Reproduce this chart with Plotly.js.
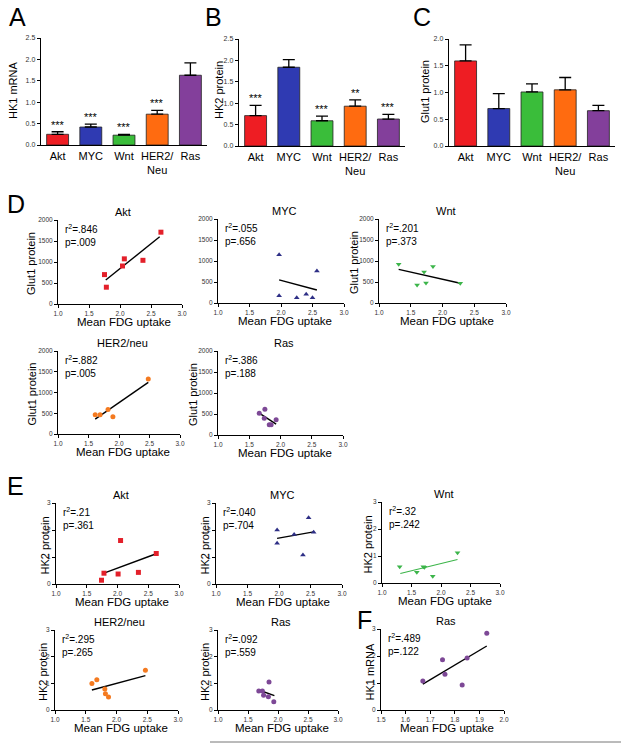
<!DOCTYPE html>
<html><head><meta charset="utf-8">
<script src="https://cdn.plot.ly/plotly-3.0.1.min.js"></script>
<style>body{margin:0;background:#fff}#chart{width:621px;height:746px}</style>
</head><body><div id="chart"></div>
<script>
const W=621,H=746;
// ---- bar panels A-C ----
const categories=['Akt','MYC','Wnt','HER2/<br>Neu','Ras'];
const barColors=['#ee1d23','#2f3ab2','#3abd3a','#ff6b10','#833f9b'];
const hk1Mean=[0.25,0.42,0.23,0.72,1.63];
const hk1Err=[0.06,0.07,0.02,0.09,0.29];
const hk1Stars=['***','***','***','***',''];
const hk2Mean=[0.71,1.84,0.59,0.93,0.63];
const hk2Err=[0.24,0.18,0.11,0.15,0.11];
const hk2Stars=['***','','***','**','***'];
const glutMean=[1.59,0.70,1.01,1.05,0.66];
const glutErr=[0.30,0.28,0.15,0.23,0.10];
const glutStars=['','','','',''];
// ---- scatter panels D (Glut1 protein vs FDG) ----
const dAktX=[1.75,1.78,2.04,2.07,2.37,2.66], dAktY=[700,400,905,1075,1040,1710];
const dAktLineX=[1.77,2.64], dAktLineY=[570,1600];
const dMycX=[1.97,1.97,2.25,2.40,2.50,2.57], dMycY=[1150,175,125,210,125,760];
const dMycLineX=[1.97,2.57], dMycLineY=[550,310];
const dWntX=[1.31,1.60,1.71,1.74,1.85,2.28], dWntY=[920,430,740,475,870,470];
const dWntLineX=[1.31,2.28], dWntLineY=[800,470];
const dHerX=[1.61,1.69,1.82,1.90,2.48], dHerY=[462,462,590,414,1323];
const dHerLineX=[1.61,2.48], dHerLineY=[360,1243];
const dRasX=[1.66,1.74,1.75,1.82,1.85,1.93], dRasY=[520,400,615,245,245,365];
const dRasLineX=[1.66,1.93], dRasLineY=[520,260];
// ---- scatter panels E (HK2 protein vs FDG) ----
const eAktX=[1.74,1.78,2.01,2.05,2.34,2.63], eAktY=[0.14,0.40,0.37,1.61,0.43,1.13];
const eAktLineX=[1.78,2.63], eAktLineY=[0.40,1.12];
const eMycX=[1.97,1.97,2.24,2.38,2.47,2.55], eMycY=[2.0,1.51,1.83,1.07,2.45,1.92];
const eMycLineX=[1.97,2.55], eMycLineY=[1.69,1.93];
const eWntX=[1.30,1.59,1.70,1.72,1.86,2.28], eWntY=[0.60,0.40,0.60,0.58,0.25,1.12];
const eWntLineX=[1.31,2.28], eWntLineY=[0.35,0.87];
const eHerX=[1.60,1.68,1.81,1.82,1.87,2.47], eHerY=[0.99,1.13,0.79,0.61,0.49,1.49];
const eHerLineX=[1.60,2.47], eHerLineY=[0.75,1.29];
const eRasX=[1.68,1.74,1.76,1.84,1.85,1.93], eRasY=[0.71,0.71,0.55,0.50,1.05,0.31];
const eRasLineX=[1.68,1.94], eRasLineY=[0.75,0.54];
// ---- panel F (HK1 mRNA vs FDG, Ras) ----
const fX=[1.67,1.75,1.76,1.83,1.85,1.93], fY=[1.07,1.86,1.32,0.93,1.93,2.84];
const fLineX=[1.67,1.93], fLineY=[0.96,2.37];
const dStats=[['.846','.009'],['.055','.656'],['.201','.373'],['.882','.005'],['.386','.188']];
const eStats=[['.21','.361'],['.040','.704'],['.32','.242'],['.295','.265'],['.092','.559']];
const fStats=['.489','.122'];

const FONT='Arial, "Liberation Sans", sans-serif';
const traces=[];
const layout={width:W,height:H,margin:{l:0,r:0,t:0,b:0},showlegend:false,
  paper_bgcolor:'#fff',plot_bgcolor:'#fff',font:{family:FONT,color:'#000'},
  annotations:[],shapes:[]};
let axn=0;
function keys(){axn++;const s=axn===1?'':String(axn);return {x:'x'+s,y:'y'+s,xl:'xaxis'+s,yl:'yaxis'+s};}
function dom(l,r,t,b){return {x:[l/W,r/W],y:[1-b/H,1-t/H]};}
function ann(text,px,py,size,extra){layout.annotations.push(Object.assign({text:text,xref:'paper',yref:'paper',
  x:px/W,y:1-py/H,showarrow:false,font:{size:size,color:'#000',family:FONT},xanchor:'center',yanchor:'middle'},extra||{}));}

function barPanel(box,means,errs,stars,yMax,yTitle,tPos,letter,lPos){
  const k=keys(),d=dom(...box);
  traces.push({type:'bar',x:categories,y:means,xaxis:k.x,yaxis:k.y,width:0.66,
    marker:{color:barColors,line:{color:'#222',width:0.8}},
    error_y:{type:'data',symmetric:false,array:errs,arrayminus:means.map(()=>0),color:'#000',thickness:1.3,width:6}});
  layout[k.xl]={domain:d.x,anchor:k.y,range:[-0.5,4.5],showline:true,linecolor:'#000',linewidth:1.3,
    ticks:'',tickfont:{size:11,color:'#000'},showgrid:false,zeroline:false};
  layout[k.yl]={domain:d.y,anchor:k.x,range:[0,yMax],dtick:0.5,tickformat:'.1f',showline:true,linecolor:'#000',linewidth:1.3,
    ticks:'outside',ticklen:3,tickcolor:'#000',tickfont:{size:7,color:'#333'},showgrid:false,zeroline:false};
  stars.forEach((s,i)=>{ if(s) layout.annotations.push({text:s,xref:k.x,yref:k.y,x:categories[i],y:means[i]+errs[i],
    showarrow:false,yanchor:'bottom',yshift:-1,font:{size:11,color:'#000',family:FONT}}); });
  ann(yTitle,tPos[0],tPos[1],11,{textangle:-90});
  ann(letter,lPos[0],lPos[1],25);
}

function scatPanel(o){
  const k=keys(),d=dom(...o.box);
  traces.push({type:'scatter',mode:'lines',x:o.lx,y:o.ly,xaxis:k.x,yaxis:k.y,line:{color:o.lineColor||'#000',width:o.lineColor?1.1:1.4}});
  traces.push({type:'scatter',mode:'markers',x:o.xs,y:o.ys,xaxis:k.x,yaxis:k.y,
    marker:{symbol:o.sym,color:o.col,size:o.size||5,line:{width:0}}});
  layout[k.xl]={domain:d.x,anchor:k.y,range:o.xr,dtick:o.xd,tickformat:'.1f',showline:true,linecolor:'#000',linewidth:1,
    ticks:'outside',ticklen:3,tickcolor:'#000',tickfont:{size:6.5,color:'#333'},showgrid:false,zeroline:false};
  layout[k.yl]={domain:d.y,anchor:k.x,range:o.yr,dtick:o.yd,showline:true,linecolor:'#000',linewidth:1,
    ticks:'outside',ticklen:3,tickcolor:'#000',tickfont:{size:6.5,color:'#333'},showgrid:false,zeroline:false};
  const cx=(o.box[0]+o.box[1])/2;
  ann(o.title,cx+3,o.box[2]-8,11);
  ann('Mean FDG uptake',cx+4,o.box[3]+18,11.5);
  if(o.yTitle) ann(o.yTitle,o.yTitleX,(o.box[2]+o.box[3])/2+2,11,{textangle:-90});
  layout.annotations.push({text:'r<sup>2</sup>='+o.stats[0]+'<br>p='+o.stats[1],xref:k.x,yref:k.y,x:o.xr[0],y:o.yr[1],showarrow:false,
    xanchor:'left',yanchor:'top',align:'left',xshift:5,yshift:-1,font:{size:10,color:'#000',family:FONT}});
}

barPanel([41,207,38,145],hk1Mean,hk1Err,hk1Stars,2.5,'HK1 mRNA',[13,90],'A',[17,17]);
barPanel([239,405,39,146],hk2Mean,hk2Err,hk2Stars,2.5,'HK2 protein',[219,90],'B',[213,17]);
barPanel([449,615,39,146],glutMean,glutErr,glutStars,2.0,'Glut1 protein',[425,92],'C',[422,17]);

const red='#e3202a',navy='#2e2f86',green='#3cb54a',orange='#f47a20',purple='#7d4896';
const D={yr:[0,2000],yd:500,xr:[1,3],xd:0.5};
const E={yr:[0,3],yd:1,xr:[1,3],xd:0.5};
scatPanel(Object.assign({box:[58,182,220,304],xs:dAktX,ys:dAktY,lx:dAktLineX,ly:dAktLineY,sym:'square',col:red,title:'Akt',stats:dStats[0],yTitle:'Glut1 protein',yTitleX:31},D));
scatPanel(Object.assign({box:[218,344,219,303],xs:dMycX,ys:dMycY,lx:dMycLineX,ly:dMycLineY,sym:'triangle-up',col:navy,title:'MYC',stats:dStats[1]},D));
scatPanel(Object.assign({box:[379,506,219,303],xs:dWntX,ys:dWntY,lx:dWntLineX,ly:dWntLineY,sym:'triangle-down',col:green,title:'Wnt',stats:dStats[2],yTitle:'Glut1 protein',yTitleX:354},D));
scatPanel(Object.assign({box:[58,180,351,434],xs:dHerX,ys:dHerY,lx:dHerLineX,ly:dHerLineY,sym:'circle',col:orange,title:'HER2/neu',stats:dStats[3],yTitle:'Glut1 protein',yTitleX:31},D));
scatPanel(Object.assign({box:[218,343,351,435],xs:dRasX,ys:dRasY,lx:dRasLineX,ly:dRasLineY,sym:'circle',col:purple,title:'Ras',stats:dStats[4],yTitle:'Glut1 protein',yTitleX:193},D));
scatPanel(Object.assign({box:[56,179,503,584],xs:eAktX,ys:eAktY,lx:eAktLineX,ly:eAktLineY,sym:'square',col:red,title:'Akt',stats:eStats[0],yTitle:'HK2 protein',yTitleX:44},E));
scatPanel(Object.assign({box:[216,342,503,584],xs:eMycX,ys:eMycY,lx:eMycLineX,ly:eMycLineY,sym:'triangle-up',col:navy,title:'MYC',stats:eStats[1],yTitle:'HK2 protein',yTitleX:204},E));
scatPanel(Object.assign({box:[382,500,502,583],xs:eWntX,ys:eWntY,lx:eWntLineX,ly:eWntLineY,sym:'triangle-down',col:green,lineColor:green,title:'Wnt',stats:eStats[2],yTitle:'HK2 protein',yTitleX:367},E));
scatPanel(Object.assign({box:[55,178,630,710],xs:eHerX,ys:eHerY,lx:eHerLineX,ly:eHerLineY,sym:'circle',col:orange,title:'HER2/neu',stats:eStats[3],yTitle:'HK2 protein',yTitleX:43},E));
scatPanel(Object.assign({box:[218,338,630,710],xs:eRasX,ys:eRasY,lx:eRasLineX,ly:eRasLineY,sym:'circle',col:purple,title:'Ras',stats:eStats[4],yTitle:'HK2 protein',yTitleX:205},E));
scatPanel({box:[381,504,629,710],xs:fX,ys:fY,lx:fLineX,ly:fLineY,sym:'circle',col:purple,title:'Ras',stats:fStats,yTitle:'HK1 mRNA',yTitleX:369,yr:[0,3],yd:1,xr:[1.5,2.0],xd:0.1});

ann('D',16,204,25);
ann('E',15,486,25);
ann('F',365,620,25);
layout.shapes.push({type:'line',xref:'paper',yref:'paper',x0:210/W,x1:1,y0:1-742/H,y1:1-742/H,line:{color:'#777',width:1}});

Plotly.newPlot('chart',traces,layout,{staticPlot:true});
</script></body></html>
